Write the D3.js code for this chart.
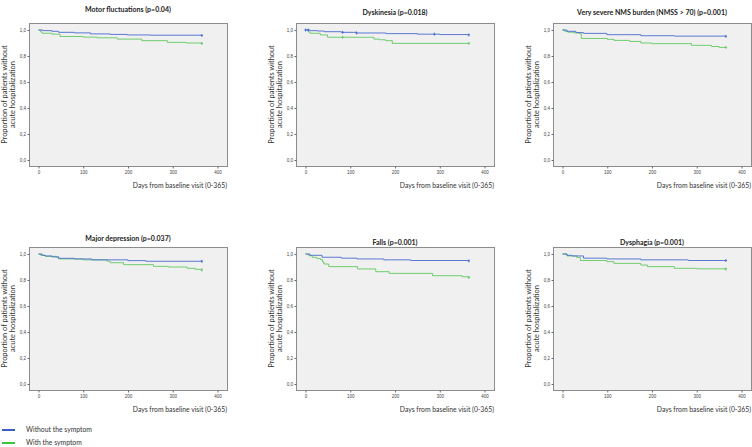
<!DOCTYPE html>
<html><head><meta charset="utf-8">
<script src="https://cdn.jsdelivr.net/npm/d3@7"></script>
<style>
html,body{margin:0;padding:0;background:#fff;}
svg{display:block;font-family:Lato,"Open Sans",sans-serif;}
</style></head>
<body><svg id="chart" width="752" height="447"></svg>
<script>
// ---- data ----
const panelTitles = ["Motor fluctuations (p=0.04)", "Dyskinesia (p=0.018)", "Very severe NMS burden (NMSS > 70) (p=0.001)",
                     "Major depression (p=0.037)", "Falls (p=0.001)", "Dysphagia (p=0.001)"];
const seriesNames = ["Without the symptom", "With the symptom"];
const xTickValues = [0, 100, 200, 300, 400];
const yTickValues = [0, 0.2, 0.4, 0.6, 0.8, 1.0];
const yTickLabels = ["0,0", "0,2", "0,4", "0,6", "0,8", "1,0"];
const xAxisLabel = "Days  from baseline visit (0-365)";
const yAxisLabel = ["Proportion of patients without", "acute hospitalization"];

// [day, proportion] step points
const motorWithout = [[0,1],[10,0.995],[30,0.99],[45,0.982],[80,0.978],[116,0.97],[160,0.966],[198,0.962],[250,0.96],[365,0.958]];
const motorWith    = [[0,1],[5,0.985],[8,0.975],[30,0.968],[48,0.95],[100,0.945],[131,0.94],[176,0.93],[231,0.918],[288,0.905],[330,0.9],[365,0.897]];
const dyskWithout  = [[0,1],[10,0.995],[27,0.992],[42,0.987],[80,0.982],[114,0.977],[180,0.972],[250,0.968],[300,0.965],[365,0.962]];
const dyskWith     = [[0,1],[7,0.985],[10,0.975],[33,0.962],[49,0.944],[153,0.93],[165,0.925],[179,0.918],[194,0.897],[365,0.897]];
const nmsWithout   = [[0,1],[10,0.99],[30,0.98],[47,0.974],[99,0.964],[175,0.956],[250,0.953],[365,0.951]];
const nmsWith      = [[0,1],[5,0.99],[12,0.983],[25,0.978],[38,0.972],[42,0.935],[100,0.928],[115,0.92],[150,0.912],[175,0.9],[200,0.895],[288,0.882],[333,0.873],[350,0.866],[365,0.866]];
const deprWithout  = [[0,1],[8,0.99],[15,0.985],[30,0.978],[45,0.967],[80,0.962],[119,0.955],[200,0.949],[240,0.944],[365,0.944]];
const deprWith     = [[0,1],[5,0.99],[15,0.982],[40,0.975],[45,0.962],[100,0.955],[153,0.945],[160,0.933],[190,0.918],[257,0.905],[290,0.9],[332,0.89],[350,0.882],[365,0.877]];
const fallsWithout = [[0,1],[10,0.99],[37,0.975],[80,0.968],[115,0.962],[175,0.955],[235,0.95],[365,0.947]];
const fallsWith    = [[0,1],[7,0.987],[15,0.974],[25,0.965],[34,0.956],[38,0.94],[41,0.923],[52,0.903],[116,0.885],[157,0.864],[187,0.851],[284,0.833],[350,0.825],[365,0.82]];
const dysphWithout = [[0,1],[10,0.99],[21,0.985],[47,0.968],[99,0.962],[175,0.955],[281,0.95],[365,0.95]];
const dysphWith    = [[0,1],[10,0.985],[32,0.974],[40,0.95],[99,0.941],[115,0.928],[175,0.915],[190,0.903],[250,0.89],[300,0.886],[365,0.884]];

// censored days (+ marks)
const censorWithout = [[365],[0,6,83,114,288,365],[365],[365],[365],[365]];
const censorWith    = [[365],[83,365],[365],[365],[365],[365]];

const seriesWithout = [motorWithout, dyskWithout, nmsWithout, deprWithout, fallsWithout, dysphWithout];
const seriesWith    = [motorWith, dyskWith, nmsWith, deprWith, fallsWith, dysphWith];

// ---- layout ----
const colors = {without: "#4a6bd0", with: "#62c862"};
const legendColors = {without: "#3a5ec2", with: "#3cc43c"};
const colLeft = [29, 296, 553];
const rowTop = [23, 247];
const boxW = 198, boxH = 143;
const titleDy = [-17, -14, -14, -12.5, -8.5, -8.5];

const svg = d3.select("#chart");

function stepValue(pts, day) {
  let v = pts[0][1];
  for (const p of pts) { if (p[0] <= day) v = p[1]; }
  return v;
}

panelTitles.forEach((title, i) => {
  const left = colLeft[i % 3], top = rowTop[Math.floor(i / 3)];
  const x = d3.scaleLinear().domain([0, 400]).range([left + 9.5, left + 188.5]);
  const y = d3.scaleLinear().domain([0, 1]).range([top + 137, top + 7]);
  const g = svg.append("g");

  g.append("rect").attr("x", left + 0.5).attr("y", top + 0.5).attr("width", boxW).attr("height", boxH)
    .attr("fill", "#f0f0f0").attr("stroke", "#8c8c8c").attr("stroke-width", 1);

  // axes
  const xAxis = d3.axisBottom(x).tickValues(xTickValues).tickSize(2).tickPadding(2).tickFormat(d3.format("d"));
  const gx = g.append("g").attr("transform", `translate(0,${top + boxH + 0.5})`).call(xAxis);
  gx.select(".domain").remove();
  gx.selectAll("line").attr("stroke", "#666");
  gx.selectAll("text").attr("font-size", 4.5).attr("fill", "#444");

  const yAxis = d3.axisLeft(y).tickValues(yTickValues).tickSize(2).tickPadding(1.5)
    .tickFormat((d, k) => yTickLabels[k]);
  const gy = g.append("g").attr("transform", `translate(${left + 0.5},0)`).call(yAxis);
  gy.select(".domain").remove();
  gy.selectAll("line").attr("stroke", "#666");
  gy.selectAll("text").attr("font-size", 4.5).attr("fill", "#444");

  // title
  g.append("text").attr("x", left + boxW / 2).attr("y", top + titleDy[i] + 6)
    .attr("text-anchor", "middle").attr("font-size", 7).attr("font-weight", "bold").attr("fill", "#222").text(title);

  // x label
  g.append("text").attr("x", left + boxW).attr("y", top + boxH + 22)
    .attr("text-anchor", "end").attr("font-size", 6.8).attr("fill", "#333").text(xAxisLabel);

  // y label
  yAxisLabel.forEach((t, k) => {
    g.append("text").attr("transform", `translate(${left - 21.8 + k * 7.6},${top + boxH / 2}) rotate(-90)`)
      .attr("text-anchor", "middle").attr("font-size", 7.4).attr("fill", "#333").text(t);
  });

  const line = d3.line().x(d => x(d[0])).y(d => y(d[1])).curve(d3.curveStepAfter);
  [[seriesWith[i], colors.with, censorWith[i]], [seriesWithout[i], colors.without, censorWithout[i]]].forEach(([pts, col, cens]) => {
    g.append("path").datum(pts).attr("d", line).attr("fill", "none").attr("stroke", col).attr("stroke-width", 0.9);
    cens.forEach(dd => {
      const cx = x(dd), cy = y(stepValue(pts, dd));
      g.append("line").attr("x1", cx).attr("x2", cx).attr("y1", cy - 1.5).attr("y2", cy + 1.5).attr("stroke", col).attr("stroke-width", 0.9);
      g.append("line").attr("x1", cx - 1.2).attr("x2", cx + 1.2).attr("y1", cy).attr("y2", cy).attr("stroke", col).attr("stroke-width", 0.9);
    });
  });
});

// legend
seriesNames.forEach((name, k) => {
  const ly = 430 + k * 13;
  svg.append("line").attr("x1", 2).attr("x2", 15).attr("y1", ly).attr("y2", ly)
    .attr("stroke", k === 0 ? legendColors.without : legendColors.with).attr("stroke-width", 2);
  svg.append("text").attr("x", 26).attr("y", ly + 2.4).attr("font-size", 6.8).attr("fill", "#333").text(name);
});
</script>
</body></html>
